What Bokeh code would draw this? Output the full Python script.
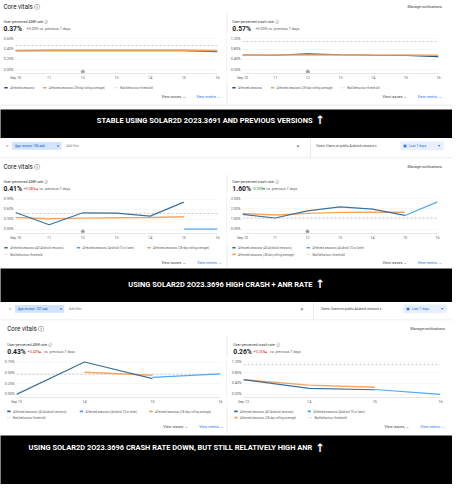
from bokeh.plotting import figure
from bokeh.layouts import column, row
from bokeh.models import Range1d, FixedTicker
from bokeh.core.properties import value
from bokeh.embed import file_html
from bokeh.resources import INLINE

# ---------------- data ----------------
anr_threshold = 0.47
crash_threshold = 1.09
release_day = 12

# Section 1: stable build (Sep 10-16)
s1_days = [10, 11, 12, 13, 14, 15, 16]
s1_day_labels = ["Sep 10", "11", "12", "13", "14", "15", "16"]
s1_anr_affected = [0.37, 0.37, 0.37, 0.37, 0.37, 0.37, 0.35]
s1_anr_rolling = [0.37, 0.38, 0.38, 0.38, 0.38, 0.38, 0.37]
s1_crash_affected = [0.57, 0.56, 0.61, 0.58, 0.56, 0.55, 0.51]
s1_crash_rolling = [0.56, 0.57, 0.57, 0.57, 0.57, 0.57, 0.56]
s1_anr_yticks = [0, 0.2, 0.4, 0.6]
s1_anr_ylabels = ["0.00%", "0.20%", "0.40%", "0.60%"]
s1_crash_yticks = [0, 0.4, 0.8, 1.2]
s1_crash_ylabels = ["0.00%", "0.40%", "0.80%", "1.20%"]

# Section 2: app version 106 (Sep 10-16)
s2_days = [10, 11, 12, 13, 14, 15, 16]
s2_day_labels = ["Sep 10", "11", "12", "13", "14", "15", "16"]
s2_days_all = [10, 11, 12, 13, 14, 15]
s2_days_a10 = [15, 16]
s2_anr_all = [0.50, 0.13, 0.49, 0.48, 0.39, 0.81]
s2_anr_a10 = [0.00, 0.00]
s2_anr_rolling = [0.35, 0.31, 0.33, 0.34, 0.35, 0.37]
s2_crash_all = [1.45, 1.10, 1.80, 2.20, 1.97, 1.35]
s2_crash_a10 = [1.35, 2.69]
s2_crash_rolling = [1.55, 1.40, 1.55, 1.65, 1.67, 1.67]
s2_anr_yticks = [0, 0.3, 0.6, 0.9]
s2_anr_ylabels = ["0.00%", "0.30%", "0.60%", "0.90%"]
s2_crash_yticks = [0, 1, 2, 3]
s2_crash_ylabels = ["0.00%", "1.00%", "2.00%", "3.00%"]

# Section 3: app version 107 (Sep 13-16)
s3_days = [13, 14, 15, 16]
s3_day_labels = ["Sep 13", "14", "15", "16"]
s3_days_all = [13, 14, 15]
s3_days_a10 = [15, 16]
s3_anr_all = [0.00, 0.76, 0.37]
s3_anr_a10 = [0.40, 0.48]
s3_days_anr_rolling = [14, 15]
s3_anr_rolling = [0.52, 0.45]
s3_crash_all = [0.54, 0.22, 0.17]
s3_crash_a10 = [0.18, 0.00]
s3_days_crash_rolling = [13, 14, 15]
s3_crash_rolling = [0.54, 0.34, 0.26]
s3_anr_yticks = [0, 0.25, 0.5, 0.75]
s3_anr_ylabels = ["0.00%", "0.25%", "0.50%", "0.75%"]
s3_crash_yticks = [0, 0.4, 0.8, 1.2]
s3_crash_ylabels = ["0.00%", "0.40%", "0.80%", "1.20%"]

# ---------------- style ----------------
SX = 452 / 468
SY = 484 / 500
FONT = "Roboto"
C_ALL = "#2f6a9b"
C_S1 = "#1f4e79"
C_A10 = "#42a5f5"
C_ROLL = "#f5a05a"
C_THR = "#c4c7c5"
C_TXT = "#202124"
C_SUB = "#5f6368"
C_BLUE = "#1a73e8"
C_RED = "#d93025"
C_GREEN = "#188038"

L_S1 = "Affected sessions"
L_ALL = "Affected sessions (All Android versions)"
L_A10 = "Affected sessions (Android 10 or later)"
L_ROLL = "Affected sessions (28-day rolling average)"
L_THR = "Bad behaviour threshold"


def fpx(v):
    return f"{v * SY:.2f}px"


def canvas(y_top, y_bot, bg="white"):
    h = round(y_bot * SY) - round(y_top * SY)
    p = figure(width=452, height=h, x_range=Range1d(0, 468), y_range=Range1d(y_bot, y_top),
               output_backend="svg", toolbar_location=None, x_axis_location=None,
               y_axis_location=None, min_border=0, background_fill_color=bg,
               border_fill_color=bg, outline_line_color=None)
    p.grid.visible = False
    return p


def txt(p, x, y, s, size, color=C_TXT, align="left", style="normal", font=FONT):
    p.text(x=[x], y=[y], text=[s], text_font=value(font), text_font_size=fpx(size),
           text_color=color, text_align=align, text_baseline="middle", text_font_style=style)


def seg(p, x0, y0, x1, y1, color="#e3e3e3", width=0.8, dash="solid"):
    p.segment(x0=[x0], y0=[y0], x1=[x1], y1=[y1], line_color=color, line_width=width,
              line_dash=dash)


def divider(y_top, y_bot):
    h = round(y_bot * SY) - round(y_top * SY)
    p = figure(width=1, height=h, output_backend="svg", toolbar_location=None,
               x_axis_location=None, y_axis_location=None, min_border=0,
               background_fill_color="#e6e6e6", border_fill_color="#e6e6e6",
               outline_line_color=None)
    p.grid.visible = False
    return p


def chart(geom, xr, yr, xticks, xlabels, yticks, ylabels, series, thr, marker=True):
    X0, X1, Y0, Y1, FL, FR, FT, FB = geom
    W = round(X1 * SX) - round(X0 * SX)
    H = round(Y1 * SY) - round(Y0 * SY)
    mbl = round((FL - X0) * SX)
    fw = round((FR - FL) * SX)
    mbr = W - mbl - fw
    mbt = round((FT - Y0) * SY)
    fh = round((FB - FT) * SY)
    mbb = H - mbt - fh
    p = figure(width=W, height=H, x_range=Range1d(*xr), y_range=Range1d(*yr),
               output_backend="svg", toolbar_location=None,
               min_border_left=mbl, min_border_right=mbr, min_border_top=mbt,
               min_border_bottom=mbb, background_fill_color="white",
               border_fill_color="white", outline_line_color=None)
    p.xaxis.ticker = FixedTicker(ticks=xticks)
    p.xaxis.major_label_overrides = {t: l for t, l in zip(xticks, xlabels)}
    p.yaxis.ticker = FixedTicker(ticks=yticks)
    p.yaxis.major_label_overrides = {t: l for t, l in zip(yticks, ylabels)}
    for ax in (p.xaxis[0], p.yaxis[0]):
        ax.major_tick_out = 0
        ax.major_tick_in = 0
        ax.minor_tick_out = 0
        ax.minor_tick_in = 0
        ax.major_label_text_font = FONT
        ax.major_label_text_font_size = fpx(3.8)
        ax.major_label_text_color = C_SUB
    p.yaxis.axis_line_color = None
    p.yaxis.major_label_standoff = 2
    p.xaxis.axis_line_color = "#dadce0"
    p.xaxis.axis_line_width = 0.7
    p.xaxis.major_label_standoff = 2
    p.xgrid.grid_line_color = None
    p.ygrid.grid_line_color = "#f1f1f1"
    p.ygrid.grid_line_width = 0.6
    p.ygrid.ticker = FixedTicker(ticks=yticks)

    p.line([xticks[0], xticks[-1]], [thr, thr], line_color=C_THR, line_width=0.9,
           line_dash="2 2")
    for xs, ys, color, width in series:
        p.line(xs, ys, line_color=color, line_width=width, line_alpha=0.95)
    if marker:
        p.scatter([release_day], [yr[0] * 0.55], marker="circle_cross", size=3.2,
                  fill_color="white", line_color="#70757a", line_width=0.6)
    return p


def legend(p, items):
    # items: (swatch_x, y, color, is_dashed, label)
    for x, y, color, dashed, label in items:
        if dashed:
            seg(p, x, y, x + 4, y, C_THR, 0.9, "1 1")
        else:
            seg(p, x, y, x + 3.5, y, color, 1.6)
        txt(p, x + 6, y, label, 3.1, C_SUB)


def links(p, y, issues_r, metric_r):
    txt(p, issues_r, y, "View issues  \u2192", 3.9, "#3c4043", align="right")
    txt(p, metric_r, y, "View metric  \u2192", 3.9, C_BLUE, align="right")


def filter_bar(p, y, chip_l, chip_r, version, close_x, sep_x, users_x, last_l, last_r, y_top, y_line):
    txt(p, chip_l - 6, y, "\u25bd", 3.6, C_SUB)
    p.quad(left=[chip_l], right=[chip_r], top=[y - 4], bottom=[y + 4],
           fill_color="#d3e3fd", line_color=None)
    txt(p, chip_l + 3, y, "App version: " + version, 3.3, "#0b57d0")
    txt(p, chip_r - 3.5, y, "\u00d7", 4.5, "#0b57d0", align="center")
    txt(p, chip_r + 5, y, "Add filter", 3.3, "#80868b")
    txt(p, close_x, y, "\u00d7", 5.5, C_SUB, align="center")
    seg(p, sep_x, y_top, sep_x, y_line)
    txt(p, users_x, y, "Users: Users on public Android versions \u25be", 3.4, "#3c4043")
    p.quad(left=[last_l], right=[last_r], top=[y - 4.5], bottom=[y + 4.5],
           fill_color="#e8f0fe", line_color=None)
    txt(p, last_l + 4.5, y, "\u25a3", 4, C_BLUE, align="center")
    txt(p, last_l + 9, y, "Last 7 days", 3.5, C_BLUE)
    txt(p, last_r - 5, y, "\u25be", 4, C_BLUE, align="center")
    seg(p, 0, y_line, 468, y_line, "#e8eaed", 0.8)


def stat_block(p, x, ytitle, yval, title, val, delta, delta_color, delta_w, rest):
    txt(p, x, ytitle, title + " \u24d8", 3.8, "#3c4043")
    txt(p, x, yval, val, 7, C_TXT, style="bold")
    if delta:
        txt(p, x + 21, yval, delta, 3.8, delta_color)
        txt(p, x + 21 + delta_w, yval, rest, 3.8, C_SUB)
    else:
        txt(p, x + 24, yval, rest, 3.8, C_SUB)


def banner(y_top, y_bot, y_text, text):
    p = canvas(y_top, y_bot, bg="black")
    txt(p, 323, y_text, text, 7.7, "white", align="right", style="bold")
    txt(p, 331, y_text - 0.5, "\u2191", 12, "white", align="center", style="bold",
        font="DejaVu Sans")
    return p


# ---------------- section 1 ----------------
h1 = canvas(0, 34)
txt(h1, 3, 6.5, "Core vitals \u24d8", 6.5)
txt(h1, 457, 6.5, "Manage notifications", 3.8, "#3c4043", align="right")
seg(h1, 234.5, 13, 234.5, 34)
stat_block(h1, 3, 22, 29.5, "User-perceived ANR rate", "0.37%", None, None, 0,
           "+0.00% vs. previous 7 days")
stat_block(h1, 240, 22, 29.5, "User-perceived crash rate", "0.57%", None, None, 0,
           "+0.00% vs. previous 7 days")

c1L = chart((0, 234, 34, 85, 14, 224, 38, 76), (10, 16), (-0.073, 0.624),
            s1_days, s1_day_labels, s1_anr_yticks, s1_anr_ylabels,
            [(s1_days, s1_anr_affected, C_S1, 1.2),
             (s1_days, s1_anr_rolling, C_ROLL, 1.7)],
            anr_threshold)
c1R = chart((235, 468, 34, 85, 249, 453, 38, 76), (10, 16), (-0.147, 1.248),
            s1_days, s1_day_labels, s1_crash_yticks, s1_crash_ylabels,
            [(s1_days, s1_crash_affected, C_S1, 1.2),
             (s1_days, s1_crash_rolling, C_ROLL, 1.7)],
            crash_threshold)

f1 = canvas(85, 113)
seg(f1, 234.5, 85, 234.5, 108)
seg(f1, 0, 108.5, 468, 108.5, "#e3e3e3", 0.8)
legend(f1, [(4, 90.5, C_S1, False, L_S1), (44, 90.5, C_ROLL, False, L_ROLL),
            (118, 90.5, None, True, L_THR),
            (240, 90.5, C_S1, False, L_S1), (280, 90.5, C_ROLL, False, L_ROLL),
            (353, 90.5, None, True, L_THR)])
links(f1, 100, 193, 229)
links(f1, 100, 422, 458)

b1 = banner(113, 143, 124.5, "STABLE USING SOLAR2D 2O23.3691 AND PREVIOUS VERSIONS")

# ---------------- section 2 ----------------
h2 = canvas(143, 199)
filter_bar(h2, 150.5, 12, 63, "106.aab", 308, 321, 327, 414, 459, 143, 162.5)
txt(h2, 3, 172.5, "Core vitals \u24d8", 6.5)
txt(h2, 457, 172.5, "Manage notifications", 3.8, "#3c4043", align="right")
seg(h2, 234.5, 180, 234.5, 199)
stat_block(h2, 3, 187, 194.5, "User-perceived ANR rate", "0.41%", "+0.08%\u25b4",
           C_RED, 16, "vs. previous 7 days")
stat_block(h2, 240, 187, 194.5, "User-perceived crash rate", "1.60%", "-0.30%\u25be",
           C_GREEN, 14, "vs. previous 7 days")

c2L = chart((0, 234, 199, 250, 14, 224, 203, 242), (10, 16), (-0.13, 0.947),
            s2_days, s2_day_labels, s2_anr_yticks, s2_anr_ylabels,
            [(s2_days_all, s2_anr_rolling, C_ROLL, 1.4),
             (s2_days_all, s2_anr_all, C_ALL, 1.2),
             (s2_days_a10, s2_anr_a10, C_A10, 1.2)],
            anr_threshold)
c2R = chart((235, 468, 199, 250, 250, 453, 203, 242), (10, 16), (-0.43, 3.12),
            s2_days, s2_day_labels, s2_crash_yticks, s2_crash_ylabels,
            [(s2_days_all, s2_crash_rolling, C_ROLL, 1.4),
             (s2_days_all, s2_crash_all, C_ALL, 1.2),
             (s2_days_a10, s2_crash_a10, C_A10, 1.2)],
            crash_threshold)

f2 = canvas(250, 277)
seg(f2, 234.5, 250, 234.5, 275)
legend(f2, [(4, 255.5, C_ALL, False, L_ALL), (79, 255.5, C_A10, False, L_A10),
            (152, 255.5, C_ROLL, False, L_ROLL), (4, 262.3, None, True, L_THR),
            (240, 255.5, C_ALL, False, L_ALL), (317, 255.5, C_A10, False, L_A10),
            (240, 262.3, C_ROLL, False, L_ROLL), (317, 262.3, None, True, L_THR)])
links(f2, 271, 193, 230)
links(f2, 271, 422, 458)

b2 = banner(277, 312, 293, "USING SOLAR2D 2O23.3696 HIGH CRASH + ANR RATE")

# ---------------- section 3 ----------------
h3 = canvas(312, 368)
filter_bar(h3, 318.5, 15, 66, "107.aab", 312, 324, 332, 417, 462, 312, 330)
txt(h3, 7, 339.5, "Core vitals \u24d8", 6.5)
txt(h3, 460, 339.5, "Manage notifications", 3.8, "#3c4043", align="right")
seg(h3, 234.5, 347, 234.5, 368)
stat_block(h3, 7, 356, 363, "User-perceived ANR rate", "0.43%", "+0.43%\u25b4",
           C_RED, 17, "vs. previous 7 days")
stat_block(h3, 241, 356, 363, "User-perceived crash rate", "0.26%", "+0.26%\u25b4",
           C_RED, 17, "vs. previous 7 days")

c3L = chart((0, 234, 368, 419, 17, 228, 372, 411), (13, 16), (-0.073, 0.795),
            s3_days, s3_day_labels, s3_anr_yticks, s3_anr_ylabels,
            [(s3_days_anr_rolling, s3_anr_rolling, C_ROLL, 1.4),
             (s3_days_all, s3_anr_all, C_ALL, 1.2),
             (s3_days_a10, s3_anr_a10, C_A10, 1.2)],
            anr_threshold, marker=False)
c3R = chart((235, 468, 368, 419, 252, 456, 372, 411), (13, 16), (-0.115, 1.245),
            s3_days, s3_day_labels, s3_crash_yticks, s3_crash_ylabels,
            [(s3_days_crash_rolling, s3_crash_rolling, C_ROLL, 1.4),
             (s3_days_all, s3_crash_all, C_ALL, 1.2),
             (s3_days_a10, s3_crash_a10, C_A10, 1.2)],
            crash_threshold, marker=False)

f3 = canvas(419, 449)
seg(f3, 234.5, 419, 234.5, 447)
legend(f3, [(7, 424, C_ALL, False, L_ALL), (82, 424, C_A10, False, L_A10),
            (154, 424, C_ROLL, False, L_ROLL), (7, 430.5, None, True, L_THR),
            (242, 424, C_ALL, False, L_ALL), (318, 424, C_A10, False, L_A10),
            (242, 430.5, C_ROLL, False, L_ROLL), (319, 430.5, None, True, L_THR)])
links(f3, 440, 195, 232)
links(f3, 440, 424, 461)

b3 = banner(449, 500, 462,
            "USING SOLAR2D 2O23.3696 CRASH RATE DOWN, BUT STILL RELATIVELY HIGH ANR")

layout = column(
    h1, row(c1L, divider(34, 85), c1R), f1, b1,
    h2, row(c2L, divider(199, 250), c2R), f2, b2,
    h3, row(c3L, divider(368, 419), c3R), f3, b3,
    spacing=0,
)

open("out.html", "w").write(file_html(layout, INLINE))
